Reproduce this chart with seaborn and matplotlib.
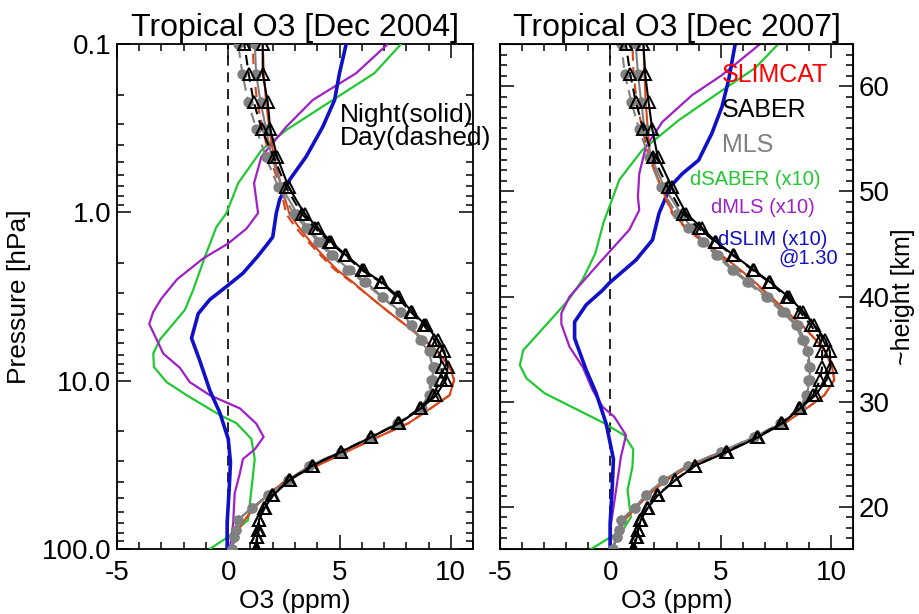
# Tropical O3 profiles, Dec 2004 / Dec 2007
# SLIMCAT vs SABER vs MLS, night (solid) and day (dashed), plus x10 differences

import matplotlib
matplotlib.use("Agg")
import matplotlib.pyplot as plt
from matplotlib.ticker import MultipleLocator, LogLocator, NullFormatter, NullLocator
import seaborn as sns

# pressure levels of the profiles (hPa)
pres = [100, 85, 77, 67, 57, 48, 39, 32, 26.5, 21.7, 17.9, 14.6, 12.2, 9.9, 8.3, 6.7,
        5.7, 4.7, 3.9, 3.2, 2.6, 2.2, 1.8, 1.5, 1.24, 1.02, 0.71, 0.47, 0.32, 0.22, 0.15, 0.1]

# ---- Dec 2004 (ppm) ----
slim_night_04 = [0.15, 0.32, 0.45, 0.75, 1.15, 1.75, 2.6, 4.0, 5.3, 6.7, 8.1, 9.1, 9.95, 10.15, 9.95, 9.4,
                 8.8, 8.0, 7.2, 6.4, 5.6, 4.9, 4.25, 3.7, 3.2, 2.75, 2.4, 2.05, 1.85, 1.7, 1.6, 1.55]
slim_day_04 = [0.15, 0.32, 0.45, 0.75, 1.15, 1.75, 2.6, 4.0, 5.3, 6.7, 8.1, 9.1, 9.95, 10.15, 9.95, 9.4,
               8.8, 8.0, 7.2, 6.4, 5.55, 4.8, 4.15, 3.6, 3.05, 2.6, 2.35, 1.85, 1.55, 1.3, 1.15, 1.1]
saber_night_04 = [1.29, 1.3, 1.38, 1.38, 1.64, 2.01, 2.76, 3.8, 5.08, 6.42, 7.69, 8.66, 9.34, 9.78, 9.86, 9.71,
                  9.41, 8.89, 8.26, 7.69, 6.9, 6.08, 5.3, 4.63, 4.03, 3.43, 2.72, 2.2, 1.89, 1.77, 1.55, 1.55]
saber_day_04 = [1.25, 1.27, 1.33, 1.36, 1.6, 1.98, 2.72, 3.75, 5.05, 6.4, 7.65, 8.6, 9.2, 9.55, 9.6, 9.5,
                9.25, 8.8, 8.2, 7.6, 6.85, 6.0, 5.25, 4.55, 3.9, 3.3, 2.6, 2.05, 1.5, 1.14, 0.92, 0.72]
mls_night_04 = [0.15, 0.28, 0.33, 0.45, 1.05, 1.8, 2.7, 3.65, 5.05, 6.4, 7.65, 8.7, 9.05, 9.18, 9.2, 9.0,
                8.6, 8.25, 7.75, 6.95, 6.2, 5.45, 4.7, 4.15, 3.6, 3.1, 2.4, 1.95, 1.7, 1.45, 1.25, 1.2]
mls_day_04 = [0.15, 0.28, 0.33, 0.45, 1.05, 1.8, 2.7, 3.65, 5.05, 6.4, 7.6, 8.65, 9.0, 9.1, 9.3, 9.1,
              8.7, 8.2, 7.7, 6.9, 6.1, 5.35, 4.6, 4.05, 3.5, 2.95, 2.25, 1.7, 1.26, 0.89, 0.64, 0.44]

dslim_p_04 = [0.1, 0.149, 0.215, 0.31, 0.467, 0.64, 0.84, 1.01, 1.4, 1.52, 1.84, 2.3, 2.76, 3.3, 4.0,
              5.6, 7.6, 11.4, 15.5, 22.2, 30.6, 44.6, 70, 100]
dslim_04 = [5.3, 5.0, 4.78, 4.25, 3.5, 2.76, 2.31, 2.16, 2.0, 1.8, 1.3, 0.66, -0.08, -0.83, -1.35,
            -1.65, -1.28, -0.83, -0.38, 0.0, 0.1, 0.04, -0.05, -0.05]
dsaber_p_04 = [0.1, 0.149, 0.215, 0.324, 0.426, 0.67, 1.01, 1.22, 1.84, 2.9, 3.8, 5.7, 6.9, 8.3, 10.2,
               12.2, 16.0, 17.9, 22.2, 29.2, 44.6, 67.3, 86, 100]
dsaber_04 = [7.77, 6.57, 4.7, 2.61, 1.5, 0.45, -0.08, -0.53, -1.05, -1.58, -1.95, -3.07, -3.37, -3.34, -2.77,
             -1.87, -0.38, 0.37, 1.04, 1.19, 1.04, 0.89, -0.08, -0.83]
dmls_p_04 = [0.1, 0.149, 0.215, 0.31, 0.467, 0.67, 1.01, 1.25, 1.53, 1.88, 2.5, 3.25, 3.9, 4.6, 6.9,
             8.4, 10.2, 12.2, 14.6, 18.0, 21.6, 25.6, 29.2, 35.6, 46.6, 70.7, 100]
dmls_04 = [7.17, 5.75, 3.8, 2.61, 1.49, 1.16, 1.34, 0.82, 0.0, -1.13, -2.3, -3.0, -3.37, -3.55, -2.92,
           -2.17, -1.73, -0.83, 0.52, 1.26, 1.59, 1.19, 0.66, 0.52, 0.29, 0.22, 0.07]

# ---- Dec 2007 (ppm) ----
slim_night_07 = [0.1, 0.3, 0.45, 0.65, 1.15, 1.7, 2.55, 3.6, 5.1, 6.6, 7.9, 8.9, 9.7, 10.15, 10.05, 9.75,
                 9.3, 8.7, 8.0, 7.3, 6.55, 5.9, 5.05, 4.3, 3.45, 2.85, 2.3, 1.8, 1.7, 1.6, 1.55, 1.5]
slim_day_07 = [0.1, 0.3, 0.45, 0.65, 1.15, 1.7, 2.55, 3.6, 5.1, 6.6, 7.9, 8.9, 9.7, 10.15, 10.05, 9.75,
               9.3, 8.7, 8.0, 7.3, 6.5, 5.8, 4.95, 4.2, 3.4, 2.8, 2.3, 1.75, 1.45, 1.2, 1.05, 1.0]
saber_night_07 = [1.05, 1.2, 1.27, 1.38, 1.7, 2.15, 2.95, 3.85, 5.3, 6.7, 7.8, 8.6, 9.3, 9.8, 9.98, 9.95,
                  9.75, 9.25, 8.75, 8.1, 7.25, 6.5, 5.6, 4.8, 4.15, 3.45, 2.8, 2.15, 1.9, 1.73, 1.58, 1.5]
saber_day_07 = [1.02, 1.17, 1.25, 1.35, 1.68, 2.12, 2.92, 3.82, 5.25, 6.65, 7.75, 8.55, 9.2, 9.5, 9.6, 9.6,
                9.5, 9.1, 8.6, 8.0, 7.2, 6.45, 5.55, 4.75, 4.0, 3.3, 2.6, 1.95, 1.5, 1.15, 0.9, 0.7]
mls_night_07 = [0.1, 0.3, 0.4, 0.5, 1.1, 1.6, 2.4, 3.5, 5.0, 6.5, 7.75, 8.65, 8.9, 9.04, 9.04, 8.97,
                8.8, 8.5, 7.9, 7.15, 6.3, 5.6, 4.9, 4.25, 3.7, 3.2, 2.45, 1.85, 1.55, 1.4, 1.25, 1.15]
mls_day_07 = [0.1, 0.3, 0.4, 0.5, 1.1, 1.6, 2.4, 3.5, 5.0, 6.5, 7.7, 8.6, 8.85, 8.95, 9.0, 8.9,
              8.7, 8.4, 7.8, 7.05, 6.2, 5.5, 4.8, 4.15, 3.5, 3.0, 2.28, 1.75, 1.3, 0.95, 0.65, 0.5]

dslim_p_07 = [0.1, 0.164, 0.236, 0.34, 0.49, 0.59, 0.7, 1.01, 1.46, 1.92, 2.63, 2.9, 3.55, 4.48, 5.6,
              8.6, 11.9, 18.0, 29.2, 44.6, 70.7, 100]
dslim_07 = [5.66, 5.36, 5.06, 4.6, 4.0, 3.26, 2.73, 2.21, 1.91, 1.16, -0.05, -0.35, -1.1, -1.62, -1.62,
            -1.1, -0.64, -0.19, 0.14, 0.08, -0.01, -0.01]
dsaber_p_07 = [0.1, 0.139, 0.183, 0.283, 0.426, 0.64, 1.14, 1.75, 2.5, 3.25, 3.8, 6.6, 8.1, 9.7, 11.9,
               17.7, 21.1, 25.6, 32.6, 44.6, 64.8, 77.8, 86, 100]
dsaber_07 = [7.61, 6.56, 5.21, 3.11, 1.45, 0.41, -0.3, -0.68, -1.25, -1.85, -2.3, -3.95, -4.1, -3.8, -2.97,
             -0.35, 0.63, 1.04, 1.0, 0.78, 0.93, 0.55, -0.05, -0.87]
dmls_p_07 = [0.1, 0.153, 0.201, 0.29, 0.408, 0.59, 0.81, 0.97, 1.27, 2.0, 3.17, 3.98, 4.6, 6.3, 8.3,
             11.4, 14.3, 16.4, 21.1, 28.3, 44.6, 70.7, 100]
dmls_07 = [6.79, 5.06, 3.71, 2.36, 1.61, 1.31, 1.25, 1.31, 0.86, -0.5, -1.85, -2.22, -2.22, -1.85, -1.25,
           -0.8, -0.35, 0.18, 0.71, 0.48, 0.26, 0.03, 0.03]

# colours
c_slim = "#d9461a"
c_saber = "black"
c_mls = "#808080"
c_dsaber = "#22c832"
c_dmls = "#a020c8"
c_dslim = "#1010c8"
dash = (0, (5, 3))

sns.set_style("ticks")
plt.rcParams['font.family'] = ['Liberation Sans', 'DejaVu Sans']
plt.rcParams.update({
    "text.color": "black", "axes.labelcolor": "black", "axes.edgecolor": "black",
    "xtick.color": "black", "ytick.color": "black", "axes.unicode_minus": False,
})


def profile(ax, x, p, color, ls="-", lw=1.5, marker=None, ms=None, mfc=None, z=2):
    sns.lineplot(x=x, y=p, orient="y", sort=False, estimator=None, ax=ax, color=color,
                 linestyle=ls, lw=lw, marker=marker, markersize=ms, markerfacecolor=mfc,
                 markeredgecolor=color, markeredgewidth=1.4, zorder=z, clip_on=True)


def panel(ax, title, slim_n, slim_d, saber_n, saber_d, mls_n, mls_d, diffs):
    ax.set_yscale("log")
    ax.axvline(0, color="black", lw=1.2, linestyle=(0, (6, 4)), zorder=1)
    for (dx, dp, col, lw) in diffs:
        profile(ax, dx, dp, col, lw=lw, z=3)
    profile(ax, slim_d, pres, c_slim, ls=dash, z=4)
    profile(ax, slim_n, pres, c_slim, z=4)
    profile(ax, mls_d, pres, c_mls, ls=dash, marker="o", ms=6, mfc=c_mls, z=5)
    profile(ax, mls_n, pres, c_mls, marker="o", ms=6, mfc=c_mls, z=5)
    profile(ax, saber_d, pres, c_saber, ls=dash, marker="^", ms=8, mfc="none", z=6)
    profile(ax, saber_n, pres, c_saber, marker="^", ms=8, mfc="none", z=6)

    ax.set_xlim(-5, 11)
    ax.set_ylim(100, 0.1)
    ax.xaxis.set_major_locator(MultipleLocator(5))
    ax.xaxis.set_minor_locator(MultipleLocator(1))
    ax.tick_params(which="both", direction="in", top=True, right=True, labelsize=20, width=1.1)
    ax.tick_params(which="major", length=10, pad=8)
    ax.tick_params(which="minor", length=5)
    ax.set_title(title, fontsize=23, pad=6)
    ax.set_xlabel("O3 (ppm)", fontsize=19, labelpad=2)
    ax.set_ylabel("")
    for s in ax.spines.values():
        s.set_linewidth(1.3)


fig = plt.figure(figsize=(9.19, 6.14), dpi=100)
ax1 = fig.add_axes([0.1273, 0.1059, 0.3874, 0.8224])
ax2 = fig.add_axes([0.5441, 0.1059, 0.3841, 0.8224])

panel(ax1, "Tropical O3 [Dec 2004]", slim_night_04, slim_day_04, saber_night_04, saber_day_04,
      mls_night_04, mls_day_04,
      [(dsaber_04, dsaber_p_04, c_dsaber, 1.6), (dmls_04, dmls_p_04, c_dmls, 1.6),
       (dslim_04, dslim_p_04, c_dslim, 2.6)])
panel(ax2, "Tropical O3 [Dec 2007]", slim_night_07, slim_day_07, saber_night_07, saber_day_07,
      mls_night_07, mls_day_07,
      [(dsaber_07, dsaber_p_07, c_dsaber, 1.6), (dmls_07, dmls_p_07, c_dmls, 1.6),
       (dslim_07, dslim_p_07, c_dslim, 2.6)])

# left panel pressure axis
ax1.set_yticks([0.1, 1, 10, 100])
ax1.set_yticklabels(["0.1", "1.0", "10.0", "100.0"])
ax1.yaxis.set_minor_locator(LogLocator(base=10, subs=[2, 3, 4, 5, 6, 7, 8, 9]))
ax1.yaxis.set_minor_formatter(NullFormatter())
ax1.tick_params(axis="y", which="major", pad=4)
ax1.set_ylabel("Pressure [hPa]", fontsize=19, labelpad=8)

# right panel: approximate height axis
ax2.yaxis.set_major_locator(NullLocator())
ax2.yaxis.set_minor_locator(NullLocator())
axk = ax2.twinx()
axk.set_ylim(16, 64)
axk.yaxis.set_major_locator(MultipleLocator(10))
axk.yaxis.set_minor_locator(MultipleLocator(1))
axk.tick_params(which="both", direction="in", left=True, right=True, labelleft=False,
                labelright=True, labelsize=20, width=1.1)
axk.tick_params(which="major", length=10, pad=4)
axk.tick_params(which="minor", length=5)
axk.set_ylabel("~height [km]", fontsize=18, labelpad=1)

# annotations
ax1.text(0.626, 0.859, "Night(solid)", transform=ax1.transAxes, fontsize=19, va="center", zorder=10)
ax1.text(0.626, 0.814, "Day(dashed)", transform=ax1.transAxes, fontsize=19, va="center", zorder=10)

ax2.text(0.629, 0.939, "SLIMCAT", transform=ax2.transAxes, fontsize=18, color="#ff0000", va="center", zorder=10)
ax2.text(0.629, 0.869, "SABER", transform=ax2.transAxes, fontsize=18, color="black", va="center", zorder=10)
ax2.text(0.629, 0.800, "MLS", transform=ax2.transAxes, fontsize=18, color=c_mls, va="center", zorder=10)
ax2.text(0.538, 0.731, "dSABER (x10)", transform=ax2.transAxes, fontsize=14.5, color=c_dsaber, va="center", zorder=10)
ax2.text(0.598, 0.677, "dMLS (x10)", transform=ax2.transAxes, fontsize=14.5, color=c_dmls, va="center", zorder=10)
ax2.text(0.618, 0.612, "dSLIM (x10)", transform=ax2.transAxes, fontsize=14.5, color=c_dslim, va="center", zorder=10)
ax2.text(0.958, 0.576, "@1.30", transform=ax2.transAxes, fontsize=14.5, color=c_dslim, va="center", ha="right", zorder=10)

fig.savefig("out.png", dpi=100)
